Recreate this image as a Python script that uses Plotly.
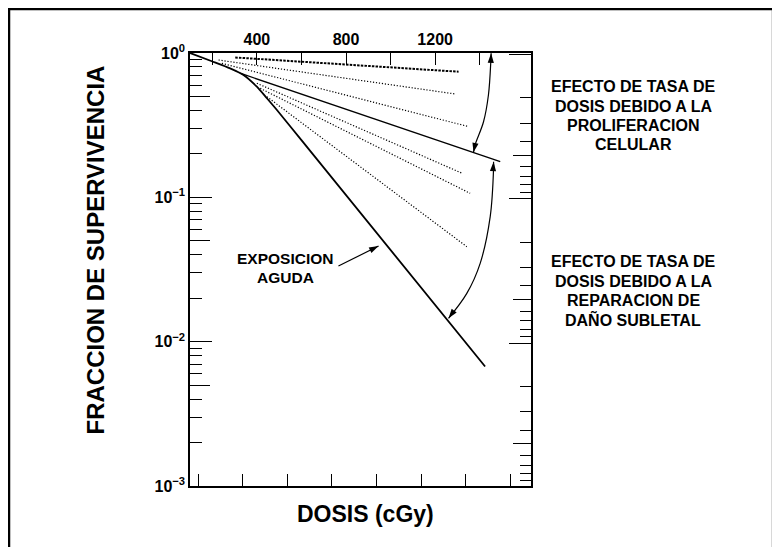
import numpy as np
import plotly.graph_objects as go

# ---------------- data (dose in cGy, surviving fraction) ----------------
acute_dose = [100, 198, 280, 340, 400, 445, 490, 600, 1424]
acute_sf = [1.0, 0.877, 0.783, 0.704, 0.584, 0.486, 0.403, 0.249, 0.00673]

prolif_dose = [325, 1492]
prolif_sf = [0.724, 0.1766]

dotted_dose = [
    [303, 1305],
    [228, 1290],
    [243, 1350],
    [400, 1320],
    [415, 1357],
    [445, 1342],
]
dotted_sf = [
    [0.931, 0.742],
    [0.894, 0.520],
    [0.848, 0.309],
    [0.617, 0.147],
    [0.569, 0.1066],
    [0.498, 0.0455],
]

# curved double arrows (dose, surviving fraction)
arrowA_dose = [1451, 1450, 1439, 1417, 1379, 1372]
arrowA_sf = [0.995, 0.894, 0.512, 0.334, 0.2307, 0.205]
arrowB_dose = [1462, 1462, 1447, 1402, 1342, 1260]
arrowB_sf = [0.1766, 0.159, 0.0735, 0.0349, 0.0216, 0.01452]

# straight pointer for "EXPOSICION AGUDA" (tail, head)
acute_ptr_dose = [766, 946]
acute_ptr_sf = [0.0334, 0.0460]

x_label_ticks = [400, 800, 1200]
x_label_text = ["400", "800", "1200"]
x_plain_ticks = [200, 600, 1000, 1400]
y_decades = [1e-3, 1e-2, 1e-1, 1]
y_labels = ["10<sup>−3</sup>", "10<sup>−2</sup>", "10<sup>−1</sup>", "10<sup>0</sup>"]

# ---------------- figure ----------------
FONT = "Liberation Sans, Arial, Helvetica, sans-serif"
OFF = 8  # page body margin of the html page
W, H = 780 - OFF, 547 - OFF

fig = go.Figure()

fig.add_trace(go.Scatter(x=acute_dose, y=acute_sf, mode="lines",
                         line=dict(color="black", width=1.8, shape="spline", smoothing=0.6),
                         hoverinfo="skip"))
fig.add_trace(go.Scatter(x=prolif_dose, y=prolif_sf, mode="lines",
                         line=dict(color="black", width=1.3), hoverinfo="skip"))
for i, (dx, dy) in enumerate(zip(dotted_dose, dotted_sf)):
    if i == 0:
        ln = dict(color="black", width=2.0, dash="2.5px,1.2px")
    else:
        ln = dict(color="black", width=1.2, dash="1.2px,1.8px")
    fig.add_trace(go.Scatter(x=dx, y=dy, mode="lines", line=ln, hoverinfo="skip"))

for ax_, ay_ in [(arrowA_dose, arrowA_sf), (arrowB_dose, arrowB_sf)]:
    fig.add_trace(go.Scatter(x=ax_, y=ay_, mode="lines",
                             line=dict(color="black", width=1.2, shape="spline", smoothing=1.0),
                             hoverinfo="skip"))

fig.add_trace(go.Scatter(x=acute_ptr_dose, y=acute_ptr_sf, mode="lines",
                         line=dict(color="black", width=1.2), hoverinfo="skip"))


def head(xs, ys):
    """arrowhead at the last point, oriented from the previous point"""
    fig.add_trace(go.Scatter(x=xs, y=ys, mode="markers", hoverinfo="skip",
                             marker=dict(symbol="arrow", angleref="previous", size=10,
                                         color="black", line=dict(width=0))))


head([arrowA_dose[1], arrowA_dose[0]], [arrowA_sf[1], arrowA_sf[0]])
head([arrowA_dose[-2], arrowA_dose[-1]], [arrowA_sf[-2], arrowA_sf[-1]])
head([arrowB_dose[2], arrowB_dose[0]], [arrowB_sf[2], arrowB_sf[0]])
head([arrowB_dose[-2], arrowB_dose[-1]], [arrowB_sf[-2], arrowB_sf[-1]])
head(acute_ptr_dose, acute_ptr_sf)

# dummy traces so the extra decorative axes are drawn
fig.add_trace(go.Scatter(x=[], y=[], xaxis="x2", yaxis="y2", hoverinfo="skip"))
fig.add_trace(go.Scatter(x=[], y=[], xaxis="x", yaxis="y3", hoverinfo="skip"))
fig.add_trace(go.Scatter(x=[], y=[], xaxis="x", yaxis="y4", hoverinfo="skip"))

annotations = []

# plot-area edges in page pixels
PL, PR, PT, PB = 190, 531, 53, 486


def px2paper(px, py):
    return (px - PL) / (PR - PL), (PB - py) / (PB - PT)


def label(text, px, py, size=16, angle=0):
    x, y = px2paper(px, py)
    annotations.append(dict(x=x, y=y, xref="paper", yref="paper", text=text,
                            showarrow=False, xanchor="center", yanchor="middle",
                            textangle=angle,
                            font=dict(family=FONT, size=size, color="black", weight="bold")))


label("EXPOSICION", 285, 258.5, 15.5)
label("AGUDA", 285, 277, 15.5)
for txt, py in zip(["EFECTO DE TASA DE", "DOSIS DEBIDO A LA", "PROLIFERACION", "CELULAR"],
                   [86.7, 106.2, 125.6, 144.8]):
    label(txt, 633, py, 16)
for txt, py in zip(["EFECTO DE TASA DE", "DOSIS DEBIDO A LA", "REPARACION DE", "DAÑO SUBLETAL"],
                   [261.7, 281.3, 300.3, 319.8]):
    label(txt, 633, py, 16)
label("FRACCION DE SUPERVIVENCIA", 95, 250.5, 24, -90)
label("DOSIS (cGy)", 365, 514, 23)

# frame
fx0, fy1 = px2paper(8.6, 8.6)
fx1, fy0 = px2paper(773.5, 570)
shapes = [dict(type="path", xref="paper", yref="paper",
               path=f"M{fx0},{fy0} L{fx0},{fy1} L{fx1},{fy1} L{fx1},{fy0}",
               line=dict(color="black", width=3.3))]

minor_left = [k * 10.0 ** d for d in range(-3, 0) for k in (2, 3, 4, 6, 7, 8, 9)]
minor_right = [k * 10.0 ** d for d in range(0, 3) for k in (2, 3, 4, 6, 7, 8, 9)]

common = dict(showgrid=False, zeroline=False, linecolor="black", tickcolor="black",
              tickwidth=1.2, ticks="inside")

fig.update_layout(
    width=W, height=H,
    margin=dict(l=PL - OFF, r=W - (PR - OFF), t=PT - OFF, b=H - (PB - OFF), pad=0,
                autoexpand=False),
    paper_bgcolor="white", plot_bgcolor="white", showlegend=False,
    font=dict(family=FONT, color="black"),
    xaxis=dict(range=[100, 1630], side="top", anchor="y", showline=True, linewidth=1.5,
               ticklen=12, tickvals=x_label_ticks, ticktext=x_label_text,
               tickfont=dict(family=FONT, size=16, weight="bold", color="black"),
               minor=dict(tickvals=x_plain_ticks, ticks="inside", ticklen=12, tickwidth=1.2,
                          tickcolor="black", showgrid=False),
               **common),
    xaxis2=dict(range=[100, 1630], overlaying="x", side="bottom", anchor="y", showline=True,
                linewidth=1.5, ticklen=12, tick0=337, dtick=200, showticklabels=False, **common),
    yaxis=dict(type="log", range=[-3, 0], side="left", anchor="x", showline=True, linewidth=1.5,
               ticklen=22, tickvals=y_decades, ticktext=y_labels,
               tickfont=dict(family=FONT, size=16, weight="bold", color="black"),
               minor=dict(tickvals=minor_left, ticks="inside", ticklen=12, tickwidth=1.2,
                          tickcolor="black", showgrid=False),
               **common),
    yaxis3=dict(type="log", range=[-3, 0], overlaying="y", side="left", anchor="x",
                showline=False, ticklen=20, tickvals=[0.005, 0.05, 0.5], showticklabels=False,
                **common),
    yaxis2=dict(type="log", range=[2.99, -0.01], overlaying="y", side="right", anchor="x",
                showline=True, linewidth=1.5, ticklen=22, tickvals=[1, 10, 100],
                showticklabels=False,
                minor=dict(tickvals=minor_right, ticks="inside", ticklen=11, tickwidth=1.2,
                           tickcolor="black", showgrid=False),
                **common),
    yaxis4=dict(type="log", range=[2.99, -0.01], overlaying="y", side="right", anchor="x",
                showline=False, ticklen=18, tickvals=[5, 50, 500], showticklabels=False,
                **common),
    annotations=annotations,
    shapes=shapes,
)

fig.write_html("out.html")
